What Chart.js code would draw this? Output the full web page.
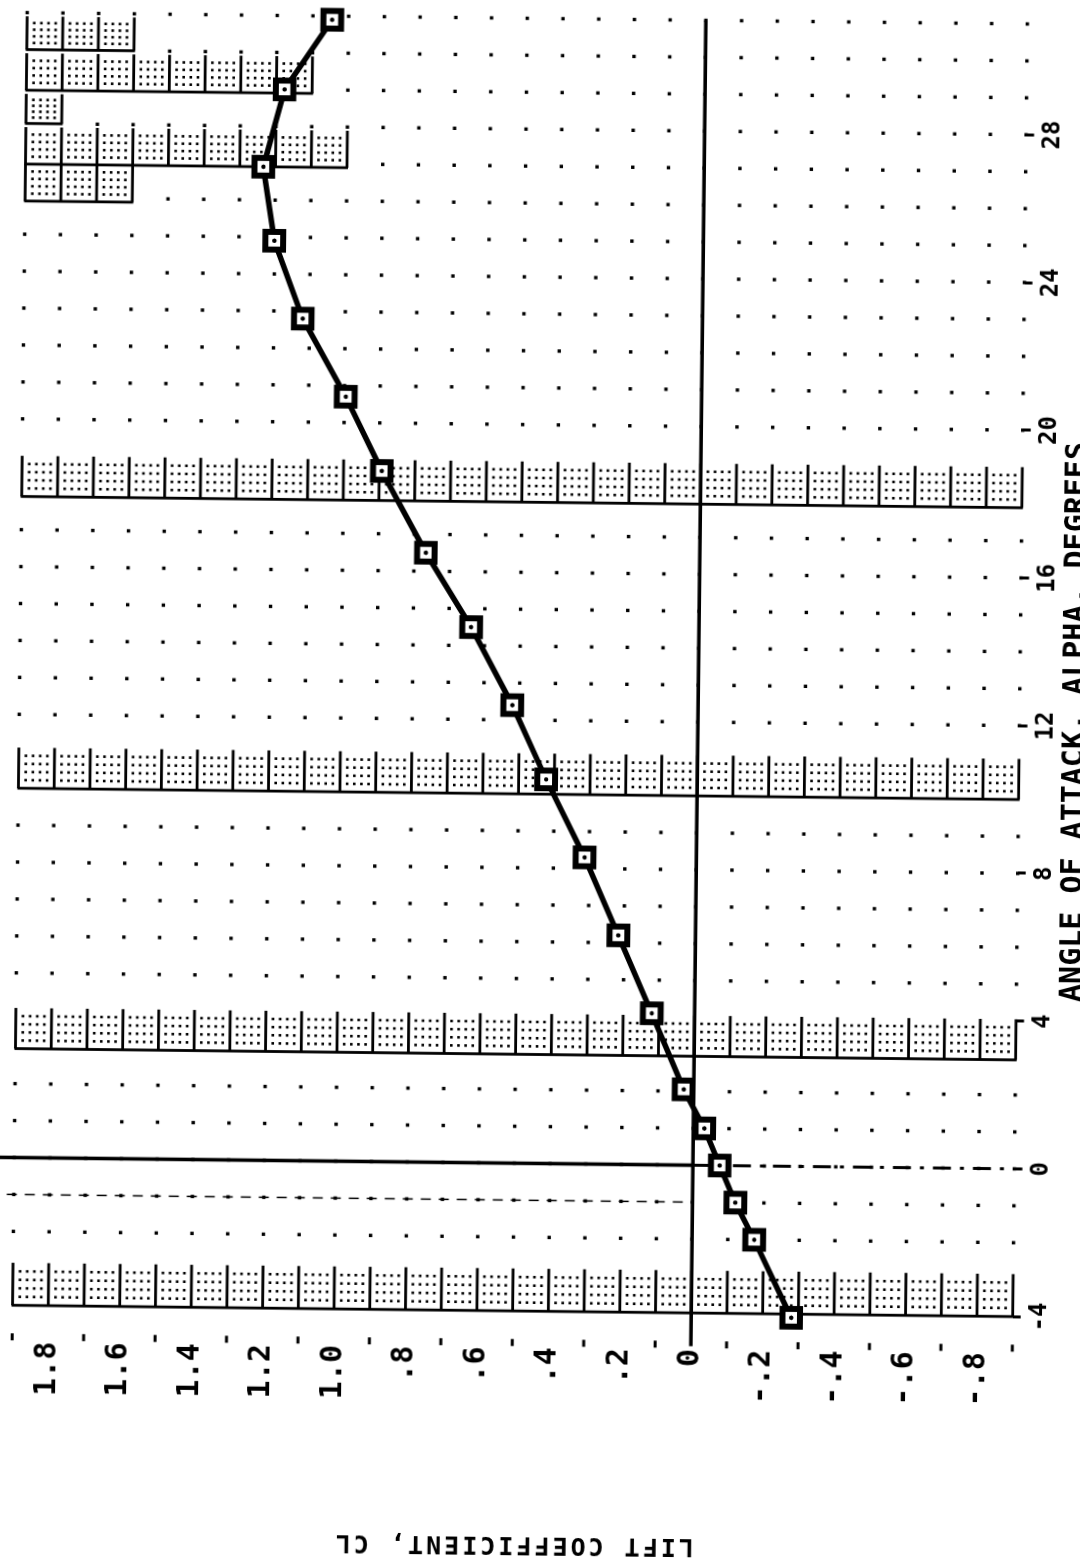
<!DOCTYPE html>
<html>
<head>
<meta charset="utf-8">
<script src="https://cdn.jsdelivr.net/npm/chart.js@4.4.0/dist/chart.umd.min.js"></script>
<style>
html, body { margin: 0; padding: 0; width: 1080px; height: 1568px; overflow: hidden; background: #fff; }
/* the plot is drawn lying on its side, then turned to stand up like the scan */
#frame { position: absolute; left: -244px; top: 244px; width: 1568px; height: 1080px;
         transform: rotate(-89.35deg); transform-origin: 784px 540px; }
#chart { position: absolute; left: 0; top: 0; }
#xTitle { position: absolute; left: 852px; top: 1058px; transform: translateX(-50%);
          font: bold 30px 'DejaVu Sans Mono', monospace; line-height: 30px; white-space: nowrap; color: #000; }
#yTitle { position: absolute; left: 22px; top: 522px; transform: translate(-50%, -50%) rotate(-90deg);
          font: bold 25px 'DejaVu Sans Mono', monospace; line-height: 25px; letter-spacing: 3px;
          white-space: nowrap; color: #000; }
</style>
</head>
<body>
<div id="frame">
  <canvas id="chart" width="1568" height="1080"></canvas>
  <div id="xTitle">ANGLE OF ATTACK, ALPHA, DEGREES</div>
  <div id="yTitle">LIFT COEFFICIENT, CL</div>
</div>
<script>
// angle of attack (deg) and lift coefficient
var alphaDeg = [-4.1, -2.0, -1.0, 0.0, 1.0, 2.05, 4.1, 6.2, 8.3, 10.4, 12.4, 14.5, 16.5, 18.7, 20.7, 22.8, 24.9, 26.9, 29.0, 30.9];
var liftCoef = [-0.28, -0.174, -0.12, -0.075, -0.031, 0.028, 0.12, 0.216, 0.313, 0.423, 0.52, 0.638, 0.767, 0.893, 0.996, 1.119, 1.201, 1.234, 1.177, 1.046];

// tick labels
var alphaTicks = [-4, 0, 4, 8, 12, 16, 20, 24, 28];
var clTicks = [1.8, 1.6, 1.4, 1.2, 1.0, 0.8, 0.6, 0.4, 0.2, 0, -0.2, -0.4, -0.6, -0.8];
var clTickLabels = ['1.8', '1.6', '1.4', '1.2', '1.0', '.8', '.6', '.4', '.2', '0', '-.2', '-.4', '-.6', '-.8'];

// halftone bands on the scan: [alpha from, alpha to, CL from, CL to]
var bands = [
  [-4.0, -2.85, -0.9, 1.9],
  [2.95, 4.05, -0.9, 1.9],
  [10.0, 11.1, -0.9, 1.9],
  [17.9, 19.0, -0.9, 1.9],
  [25.9, 26.9, 1.6, 1.9],
  [26.9, 27.9, 1.0, 1.9],
  [28.0, 28.8, 1.8, 1.9],
  [28.9, 29.9, 1.1, 1.9],
  [30.0, 30.9, 1.6, 1.9]
];

var points = alphaDeg.map(function (a, i) { return { x: a, y: liftCoef[i] }; });

function clLabel(v) {
  for (var i = 0; i < clTicks.length; i++) {
    if (Math.abs(clTicks[i] - v) < 1e-6) return clTickLabels[i];
  }
  return '';
}

function inBand(a, c) {
  for (var i = 0; i < bands.length; i++) {
    var b = bands[i];
    if (a >= b[0] - 0.06 && a <= b[1] + 0.06 && c >= b[2] - 0.01 && c <= b[3] + 0.01) return true;
  }
  return false;
}

// dotted grid, halftone bands and the two zero lines
var scanMarks = {
  id: 'scanMarks',
  beforeDatasetsDraw: function (chart) {
    var ctx = chart.ctx;
    var xs = chart.scales.x, ys = chart.scales.y;
    ctx.save();
    ctx.fillStyle = '#000';
    ctx.strokeStyle = '#000';

    for (var a = -4; a <= 31; a++) {
      for (var k = -9; k <= 19; k++) {
        var c = k / 10;
        if (inBand(a, c)) continue;
        ctx.fillRect(xs.getPixelForValue(a) - 1.7, ys.getPixelForValue(c) - 1.7, 3.4, 3.4);
      }
    }

    bands.forEach(function (b) {
      var u0 = xs.getPixelForValue(b[0]), u1 = xs.getPixelForValue(b[1]);
      var k0 = Math.round(b[2] * 10), k1 = Math.round(b[3] * 10);
      var vTop = ys.getPixelForValue(b[3]), vBot = ys.getPixelForValue(b[2]);
      ctx.fillRect(u0 - 1.4, vTop - 1, 2.8, vBot - vTop + 2);
      for (var k = k0; k <= k1; k++) {
        var v = ys.getPixelForValue(k / 10);
        ctx.fillRect(u0, v - 1.4, u1 - u0, 2.8);
        if (k < k1) {
          var vn = ys.getPixelForValue((k + 1) / 10);
          for (var i = 1; i <= 4; i++) {
            for (var j = 1; j <= 4; j++) {
              ctx.fillRect(u0 + (u1 - u0) * i / 5 - 1.3, v + (vn - v) * j / 5 - 1.3, 2.6, 2.6);
            }
          }
        }
      }
    });

    // minor ticks under the plot at odd tenths
    for (var m = -9; m <= 19; m += 2) {
      ctx.fillRect(xs.getPixelForValue(-4.95), ys.getPixelForValue(m / 10) - 1.5, 7, 3);
    }

    // CL = 0 line
    var v0 = ys.getPixelForValue(0);
    var uStart = xs.getPixelForValue(-4.9);
    ctx.fillRect(uStart, v0 - 1.8, chart.chartArea.right - uStart, 3.6);

    // alpha = 0 line, solid above CL 0, broken below
    var u0 = xs.getPixelForValue(0);
    var vHi = ys.getPixelForValue(1.97), vLo = ys.getPixelForValue(-0.92);
    ctx.fillRect(u0 - 1.8, vHi, 3.6, v0 - vHi);
    ctx.lineWidth = 3;
    ctx.setLineDash([18, 9, 4, 9]);
    ctx.beginPath();
    ctx.moveTo(u0, v0);
    ctx.lineTo(u0, vLo);
    ctx.stroke();

    // alpha = -1 dash line
    var um1 = xs.getPixelForValue(-1);
    ctx.lineWidth = 1.5;
    ctx.setLineDash([10, 8]);
    ctx.beginPath();
    ctx.moveTo(um1, vHi);
    ctx.lineTo(um1, v0);
    ctx.stroke();
    ctx.restore();
  }
};

var ctx = document.getElementById('chart').getContext('2d');
var liftChart = new Chart(ctx, {
  type: 'scatter',
  data: {
    datasets: [{
      label: 'CL',
      data: points,
      showLine: true,
      borderColor: '#000',
      borderWidth: 5.5,
      pointStyle: 'rect',
      pointRadius: 12.5,
      pointBorderWidth: 6,
      pointBorderColor: '#000',
      pointBackgroundColor: '#fff',
      clip: false,
      order: 1
    }, {
      label: 'centres',
      data: points,
      showLine: false,
      pointStyle: 'circle',
      pointRadius: 2.2,
      pointBorderWidth: 0,
      pointBackgroundColor: '#000',
      clip: false,
      order: 0
    }]
  },
  options: {
    responsive: false,
    devicePixelRatio: 1,
    animation: false,
    layout: { padding: { top: 16.3, right: 10, left: 0, bottom: 0 } },
    plugins: { legend: { display: false }, tooltip: { enabled: false } },
    scales: {
      x: {
        type: 'linear',
        position: 'bottom',
        min: -4,
        max: 31,
        afterBuildTicks: function (s) { s.ticks = alphaTicks.map(function (v) { return { value: v }; }); },
        afterFit: function (s) { s.height = 61.3; s.paddingLeft = 0; s.paddingRight = 0; },
        border: { display: false },
        grid: { drawOnChartArea: false, drawTicks: true, tickLength: 8, tickWidth: 3, tickColor: '#000' },
        ticks: {
          autoSkip: false, maxRotation: 0, minRotation: 0, padding: 5, color: '#000',
          font: { family: "'DejaVu Sans Mono', monospace", weight: 'bold', size: 24 },
          callback: function (v) { return String(v); }
        }
      },
      y: {
        type: 'linear',
        position: 'left',
        min: -0.9,
        max: 1.9,
        afterBuildTicks: function (s) { s.ticks = clTicks.map(function (v) { return { value: v }; }); },
        afterFit: function (s) { s.width = 256.8; s.paddingTop = 0; s.paddingBottom = 0; },
        border: { display: false },
        grid: { display: false, drawTicks: false },
        ticks: {
          autoSkip: false, padding: 36, color: '#000',
          font: { family: "'DejaVu Sans Mono', monospace", weight: 'bold', size: 30 },
          callback: function (v) { return clLabel(v); }
        }
      }
    }
  },
  plugins: [scanMarks]
});
</script>
</body>
</html>
